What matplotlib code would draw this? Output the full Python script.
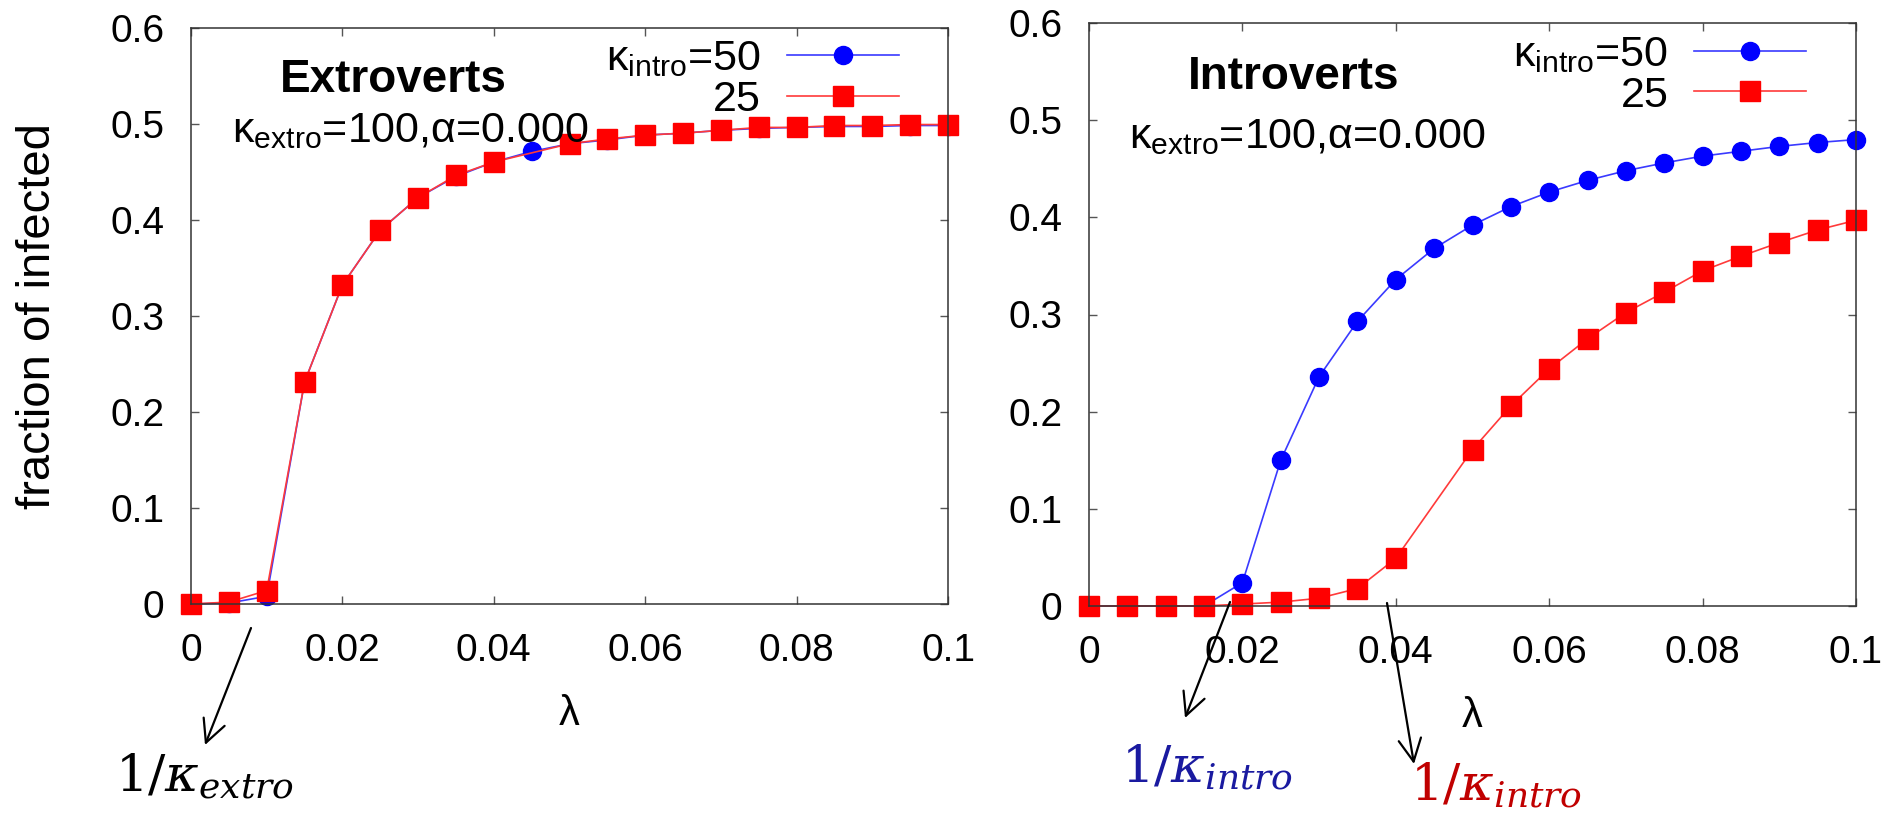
import matplotlib
matplotlib.use("Agg")
import matplotlib.pyplot as plt
from matplotlib.patches import FancyArrowPatch

## data
lam = [0.0, 0.005, 0.01, 0.015, 0.02, 0.025, 0.03, 0.035, 0.04, 0.045, 0.05,
       0.055, 0.06, 0.065, 0.07, 0.075, 0.08, 0.085, 0.09, 0.095, 0.1]
# red series has no point at 0.045
lam_red = [0.0, 0.005, 0.01, 0.015, 0.02, 0.025, 0.03, 0.035, 0.04, 0.05,
           0.055, 0.06, 0.065, 0.07, 0.075, 0.08, 0.085, 0.09, 0.095, 0.1]

# Extroverts panel
extro_k50 = [0.0, 0.001, 0.008, 0.231, 0.332, 0.389, 0.423, 0.445, 0.460, 0.471, 0.479,
             0.483, 0.488, 0.490, 0.493, 0.495, 0.496, 0.497, 0.497, 0.498, 0.498]
extro_k25 = [0.0, 0.002, 0.014, 0.231, 0.332, 0.389, 0.423, 0.446, 0.460, 0.479,
             0.484, 0.488, 0.490, 0.493, 0.496, 0.496, 0.498, 0.498, 0.499, 0.499]

# Introverts panel
intro_k50 = [0.0, 0.0, 0.0, 0.0, 0.024, 0.150, 0.236, 0.293, 0.336, 0.368, 0.392,
             0.411, 0.426, 0.438, 0.448, 0.456, 0.463, 0.468, 0.473, 0.477, 0.480]
intro_k25 = [0.0, 0.0, 0.0, 0.0, 0.002, 0.004, 0.008, 0.018, 0.049, 0.161,
             0.206, 0.244, 0.275, 0.302, 0.323, 0.345, 0.360, 0.374, 0.387, 0.397]

xticks = [0, 0.02, 0.04, 0.06, 0.08, 0.1]
xticklabels = ['0', '0.02', '0.04', '0.06', '0.08', '0.1']
yticks = [0, 0.1, 0.2, 0.3, 0.4, 0.5, 0.6]
yticklabels = ['0', '0.1', '0.2', '0.3', '0.4', '0.5', '0.6']

plt.rcParams['font.family'] = ['Liberation Sans', 'DejaVu Sans']
plt.rcParams['mathtext.fontset'] = 'custom'
plt.rcParams['mathtext.rm'] = 'Liberation Sans'
plt.rcParams['mathtext.it'] = 'Liberation Sans:italic'
plt.rcParams['mathtext.bf'] = 'Liberation Sans:bold'

W, H = 1889, 818
fig = plt.figure(figsize=(W / 100, H / 100), dpi=100)

def px_axes(x0, x1, ytop, ybot):
    return fig.add_axes([x0 / W, 1 - ybot / H, (x1 - x0) / W, (ybot - ytop) / H])

ax1 = px_axes(191, 948, 27.5, 604)
ax2 = px_axes(1089, 1856, 23, 606)

panels = [
    (ax1, extro_k50, extro_k25, 'Extroverts', (0.118, 0.888), (0.054, 0.801)),
    (ax2, intro_k50, intro_k25, 'Introverts', (0.129, 0.887), (0.052, 0.786)),
]

for ax, k50, k25, title, tpos, apos in panels:
    ax.plot(lam, k50, '-', color='#3a3aff', lw=1.2, marker='o', ms=13,
            mfc='#0000ff', mec='#0000ff', label=r'$\mathrm{\kappa_{intro}}$=50',
            clip_on=False)
    ax.plot(lam_red, k25, '-', color='#ff3a3a', lw=1.2, marker='s', ms=14,
            mfc='#ff0000', mec='#ff0000', label='25', clip_on=False)
    ax.set_xlim(0, 0.1)
    ax.set_ylim(0, 0.6)
    ax.set_xticks(xticks)
    ax.set_xticklabels(xticklabels)
    ax.set_yticks(yticks)
    ax.set_yticklabels(yticklabels)
    ax.tick_params(direction='in', length=6, width=1, colors='#555555',
                   top=True, right=True, labelsize=28, labelcolor='black', pad=19)
    ax.tick_params(axis='x', pad=21)
    for s in ax.spines.values():
        s.set_color('#333333')
        s.set_linewidth(1.1)
    ax.set_xlabel('λ', fontsize=30, labelpad=18)
    ax.text(tpos[0], tpos[1], title, transform=ax.transAxes, fontsize=33,
            fontweight='bold', ha='left', va='baseline')
    ax.text(apos[0], apos[1], r'$\mathrm{\kappa_{extro}}$=100,α=0.000',
            transform=ax.transAxes, fontsize=31, ha='left', va='baseline')
    leg = ax.legend(loc='upper right', bbox_to_anchor=(0.935, 0.98), frameon=False,
                    markerfirst=False, fontsize=31, handlelength=2.6,
                    handletextpad=0.6, labelspacing=0.02, borderaxespad=0,
                    borderpad=0)

ax1.set_ylabel('fraction of infected', fontsize=34, labelpad=36)

# hand drawn arrows and 1/kappa notes below the axes
def f(x, y):
    return (x / W, 1 - y / H)

arrow = dict(arrowstyle='->,head_length=0.9,head_width=0.45', color='black', lw=1.6,
             shrinkA=0, shrinkB=0)
for tail, head in [((251, 628), (205, 745)),
                   ((1230, 602), (1185, 718)),
                   ((1387, 603), (1414, 764))]:
    fig.add_artist(FancyArrowPatch(f(*tail), f(*head), transform=fig.transFigure,
                                   mutation_scale=18, **arrow))

fig.text(*f(115, 792), r'$1/\kappa_{extro}$', fontsize=37, color='black',
         ha='left', va='baseline', math_fontfamily='dejavuserif')
fig.text(*f(1121, 783), r'$1/\kappa_{intro}$', fontsize=37, color='#1a1aa0',
         ha='left', va='baseline', math_fontfamily='dejavuserif')
fig.text(*f(1410, 801), r'$1/\kappa_{intro}$', fontsize=37, color='#c00000',
         ha='left', va='baseline', math_fontfamily='dejavuserif')

fig.savefig('out.png', dpi=100)
